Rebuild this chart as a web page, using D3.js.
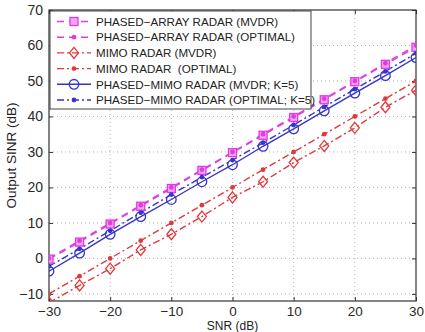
<!DOCTYPE html>
<html>
<head>
<meta charset="utf-8">
<script src="https://cdn.jsdelivr.net/npm/d3@7"></script>
<style>
  body { margin: 0; background: #fff; }
  svg { font-family: "Liberation Sans", Arial, sans-serif; }
</style>
</head>
<body>
<div class="canvas"></div>
<script>
// data
const snr = [-30, -25, -20, -15, -10, -5, 0, 5, 10, 15, 20, 25, 30];
const phasedMvdr = [-0.2, 4.6, 9.7, 14.7, 19.7, 24.8, 29.8, 34.7, 39.7, 44.7, 49.8, 54.7, 59.5];
const phasedOpt = [0, 5, 10, 15, 20, 25, 30, 35, 40, 45, 50, 55, 60];
const mimoMvdr = [-12.5, -7.6, -2.9, 2.4, 6.8, 11.8, 17.2, 21.6, 27, 31.7, 36.8, 42.6, 47.4];
const mimoOpt = [-10, -5, 0, 5, 10, 15, 20, 25, 30, 35, 40, 45, 50];
const pmMvdr = [-3.6, 1.5, 6.8, 11.8, 16.6, 21.6, 26.4, 31.6, 36.5, 41.6, 46.6, 51.5, 56.6];
const pmOpt = [-2.2, 2.7, 7.8, 12.9, 18.0, 22.9, 27.7, 32.6, 37.6, 42.7, 47.7, 52.7, 57.8];
const xTicks = [-30, -20, -10, 0, 10, 20, 30];
const yTicks = [-10, 0, 10, 20, 30, 40, 50, 60, 70];

const series = [
  { name: 'PHASED\u2212ARRAY RADAR (MVDR)', values: phasedMvdr, color: '#e23be2', dash: '7,5', marker: 'square' },
  { name: 'PHASED\u2212ARRAY RADAR (OPTIMAL)', values: phasedOpt, color: '#e23be2', dash: '7,5', marker: 'dot' },
  { name: 'MIMO RADAR (MVDR)', values: mimoMvdr, color: '#e0393b', dash: '7,3,2,3', marker: 'diamond' },
  { name: 'MIMO RADAR  (OPTIMAL)', values: mimoOpt, color: '#e0393b', dash: '7,3,2,3', marker: 'dot' },
  { name: 'PHASED\u2212MIMO RADAR (MVDR; K=5)', values: pmMvdr, color: '#3535cc', dash: null, marker: 'circle' },
  { name: 'PHASED\u2212MIMO RADAR (OPTIMAL; K=5)', values: pmOpt, color: '#3535cc', dash: '7,3,2,3', marker: 'dot' }
];

const margin = { top: 10, right: 9, bottom: 31, left: 49 };
const width = 425, height = 332;
const graphWidth = width - margin.left - margin.right;
const graphHeight = height - margin.top - margin.bottom;

const svg = d3.select('.canvas').append('svg')
  .attr('width', width)
  .attr('height', height);

const graph = svg.append('g')
  .attr('transform', `translate(${margin.left}, ${margin.top})`);

const x = d3.scaleLinear().domain([-30, 30]).range([0, graphWidth]);
const y = d3.scaleLinear().domain([-12, 70]).range([graphHeight, 0]);

// grid
const grid = graph.append('g').attr('stroke', '#b5b5b5').attr('stroke-dasharray', '1,3');
grid.selectAll('.gx').data(xTicks.slice(1, -1)).enter().append('line')
  .attr('x1', d => x(d)).attr('x2', d => x(d))
  .attr('y1', 0).attr('y2', graphHeight);
grid.selectAll('.gy').data(yTicks.slice(0, -1)).enter().append('line')
  .attr('x1', 0).attr('x2', graphWidth)
  .attr('y1', d => y(d)).attr('y2', d => y(d));

const fmt = d => (d < 0 ? '\u2212' + Math.abs(d) : '' + d);

// axes with inner ticks
const xAxisGroup = graph.append('g').attr('transform', `translate(0,${graphHeight})`)
  .call(d3.axisBottom(x).tickValues(xTicks).tickSizeInner(-4).tickSizeOuter(0).tickPadding(5).tickFormat(fmt));
const xTop = graph.append('g')
  .call(d3.axisTop(x).tickValues(xTicks).tickSizeInner(-4).tickSizeOuter(0).tickFormat(''));
const yAxisGroup = graph.append('g')
  .call(d3.axisLeft(y).tickValues(yTicks).tickSizeInner(-4).tickSizeOuter(0).tickPadding(6).tickFormat(fmt));
const yRight = graph.append('g').attr('transform', `translate(${graphWidth},0)`)
  .call(d3.axisRight(y).tickValues(yTicks).tickSizeInner(-4).tickSizeOuter(0).tickFormat(''));

[xAxisGroup, xTop, yAxisGroup, yRight].forEach(g => {
  g.select('.domain').remove();
  g.selectAll('line').attr('stroke', '#333');
  g.selectAll('text').attr('font-size', 14).attr('fill', '#2a2a2a').attr('font-family', '"Liberation Sans", Arial, sans-serif');
});
xAxisGroup.selectAll('text').attr('font-size', 13.5);

graph.append('rect')
  .attr('width', graphWidth).attr('height', graphHeight)
  .attr('fill', 'none').attr('stroke', '#333').attr('stroke-width', 1.2);

// clip
svg.append('defs').append('clipPath').attr('id', 'clip')
  .append('rect').attr('width', graphWidth).attr('height', graphHeight);

const plot = graph.append('g').attr('clip-path', 'url(#clip)');

const line = d3.line()
  .x((d, i) => x(snr[i]))
  .y(d => y(d));

function drawMarker(g, type, color) {
  if (type === 'square') {
    g.append('rect').attr('x', -4).attr('y', -4).attr('width', 8).attr('height', 8)
      .attr('fill', '#f2a3f2').attr('stroke', color).attr('stroke-width', 1.3);
  } else if (type === 'dot') {
    g.append('circle').attr('r', 2.4).attr('fill', color);
  } else if (type === 'diamond') {
    g.append('path').attr('d', 'M0,-5.5L4.5,0L0,5.5L-4.5,0Z')
      .attr('fill', 'none').attr('stroke', color).attr('stroke-width', 1.3);
  } else if (type === 'circle') {
    g.append('circle').attr('r', 4.8).attr('fill', 'none').attr('stroke', color).attr('stroke-width', 1.3);
  }
}

series.forEach(s => {
  plot.append('path').datum(s.values)
    .attr('fill', 'none')
    .attr('stroke', s.color)
    .attr('stroke-width', 1.4)
    .attr('stroke-dasharray', s.dash)
    .attr('d', line);
});

// markers on top
series.forEach(s => {
  s.values.forEach((v, i) => {
    const m = plot.append('g').attr('transform', `translate(${x(snr[i])},${y(v)})`);
    drawMarker(m, s.marker, s.color);
  });
});

// legend
const legend = graph.append('g').attr('transform', 'translate(1,1)');
legend.append('rect')
  .attr('width', 261).attr('height', 98)
  .attr('fill', '#fff').attr('stroke', '#444').attr('stroke-width', 1);

series.forEach((s, i) => {
  const row = legend.append('g').attr('transform', `translate(0,${10.5 + i * 15.7})`);
  row.append('line')
    .attr('x1', 7).attr('x2', 41).attr('y1', 0).attr('y2', 0)
    .attr('stroke', s.color).attr('stroke-width', 1.4)
    .attr('stroke-dasharray', s.dash);
  const m = row.append('g').attr('transform', 'translate(24,0)');
  drawMarker(m, s.marker, s.color);
  row.append('text')
    .attr('x', 46).attr('y', 4.2)
    .attr('font-size', 11.6).attr('fill', '#222')
    .style('white-space', 'pre')
    .text(s.name);
});

// axis labels
svg.append('text')
  .attr('x', margin.left + graphWidth / 2).attr('y', 330)
  .attr('text-anchor', 'middle').attr('font-size', 12).attr('fill', '#222')
  .text('SNR (dB)');

svg.append('text')
  .attr('transform', `translate(16,${margin.top + graphHeight / 2}) rotate(-90)`)
  .attr('text-anchor', 'middle').attr('font-size', 13.5).attr('fill', '#222')
  .text('Output SINR (dB)');
</script>
</body>
</html>
